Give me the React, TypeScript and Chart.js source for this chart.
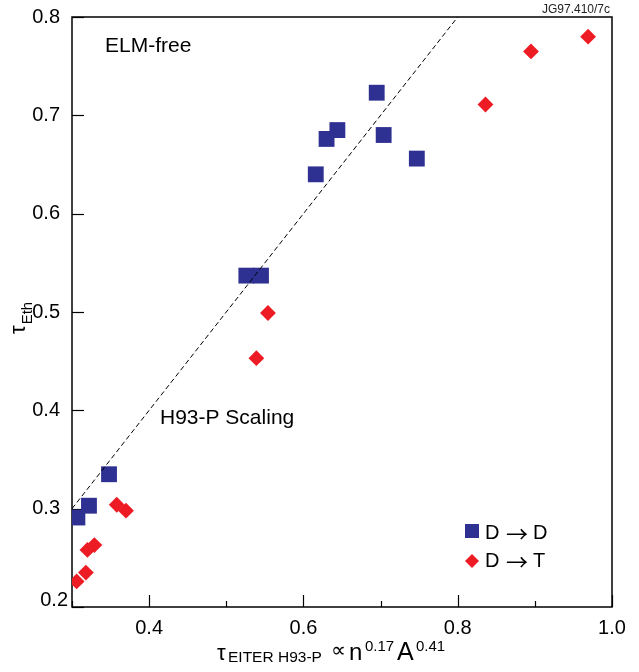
import React, { useEffect, useRef } from "react";
import { Chart, registerables } from "chart.js";

Chart.register(...registerables);

// D -> D discharges (blue squares)
const ddX = [0.307, 0.322, 0.348, 0.526, 0.545, 0.616, 0.630, 0.644, 0.695, 0.704, 0.747];
const ddY = [0.291, 0.303, 0.335, 0.537, 0.537, 0.640, 0.676, 0.685, 0.723, 0.680, 0.656];
// D -> T discharges (red diamonds)
const dtX = [0.306, 0.318, 0.320, 0.329, 0.358, 0.370, 0.539, 0.554, 0.836, 0.895, 0.969];
const dtY = [0.226, 0.235, 0.258, 0.263, 0.304, 0.298, 0.453, 0.499, 0.711, 0.765, 0.780];
// H93-P scaling line (tau_Eth = tau_H93-P)
const scalingX = [0.3, 0.8];
const scalingY = [0.3, 0.8];

const xTickLabels = ["0.4", "0.6", "0.8", "1.0"];
const yTickLabels = ["0.2", "0.3", "0.4", "0.5", "0.6", "0.7", "0.8"];

const legendFrom = ["D", "D"];
const legendTo = ["D", "T"];
const BLUE = "#2E3192";
const RED = "#ED1C24";
const FONT = '"Liberation Sans", Arial, Helvetica, sans-serif';
const SYM = '"DejaVu Sans", sans-serif';
const ARROW = '"Noto Sans CJK SC", "DejaVu Sans", sans-serif';

const toPts = (xs: number[], ys: number[]) => xs.map((x, i) => ({ x, y: ys[i] }));

const decor = {
  id: "decor",
  beforeDatasetsDraw(chart: any) {
    const { ctx, chartArea: a, scales } = chart;
    const xs = scales.x;
    const ys = scales.y;
    ctx.save();
    ctx.strokeStyle = "#000";
    ctx.lineWidth = 1.2;
    ys.ticks.forEach((t: any) => {
      const py = Math.round(ys.getPixelForValue(t.value)) + 0.5;
      ctx.beginPath();
      ctx.moveTo(a.left, py);
      ctx.lineTo(a.left + 12, py);
      ctx.stroke();
    });
    xs.ticks.forEach((t: any) => {
      const px = Math.round(xs.getPixelForValue(t.value)) + 0.5;
      const major = Math.round(t.value * 10) % 2 === 0;
      ctx.beginPath();
      ctx.moveTo(px, a.bottom);
      ctx.lineTo(px, a.bottom - (major ? 12 : 6));
      ctx.stroke();
    });
    ctx.lineWidth = 1.5;
    ctx.strokeRect(a.left, a.top, a.right - a.left, a.bottom - a.top);
    ctx.restore();
  },
  afterDraw(chart: any) {
    const { ctx, scales } = chart;
    const ys = scales.y;
    ctx.save();
    ctx.fillStyle = "#000";

    // lowest y label, lifted to clear the x labels
    ctx.font = `20px ${FONT}`;
    ctx.textAlign = "right";
    ctx.textBaseline = "middle";
    ctx.fillText(yTickLabels[0], 68, ys.getPixelForValue(parseFloat(yTickLabels[0])) - 7);
    ctx.textAlign = "left";
    ctx.textBaseline = "alphabetic";

    // annotations
    ctx.font = `21px ${FONT}`;
    ctx.fillText("ELM-free", 105, 52);
    ctx.fillText("H93-P Scaling", 160, 424);

    ctx.font = `12px ${FONT}`;
    ctx.fillStyle = "#222";
    ctx.textAlign = "right";
    ctx.fillText("JG97.410/7c", 610, 13);
    ctx.textAlign = "left";

    // legend
    ctx.fillStyle = BLUE;
    ctx.fillRect(465, 524, 14, 14);
    ctx.fillStyle = RED;
    ctx.beginPath();
    ctx.moveTo(472, 554);
    ctx.lineTo(479, 561);
    ctx.lineTo(472, 568);
    ctx.lineTo(465, 561);
    ctx.closePath();
    ctx.fill();
    ctx.fillStyle = "#000";
    const rows = [538.5, 567];
    rows.forEach((by, i) => {
      ctx.font = `20px ${FONT}`;
      ctx.fillText(legendFrom[i], 485, by);
      ctx.font = `22px ${ARROW}`;
      ctx.fillText("\u2192", 506, by + 3);
      ctx.font = `20px ${FONT}`;
      ctx.fillText(legendTo[i], 533, by);
    });

    // x axis title: tau_{EITER H93-P} ∝ n^{0.17} A^{0.41}
    ctx.font = `22px ${FONT}`;
    ctx.fillText("\u03C4", 217, 660);
    ctx.font = `15.5px ${FONT}`;
    ctx.fillText("EITER H93-P", 228, 662);
    ctx.font = `21px ${SYM}`;
    ctx.fillText("\u221D", 331, 657);
    ctx.font = `24px ${FONT}`;
    ctx.fillText("n", 349, 660);
    ctx.font = `15px ${FONT}`;
    ctx.fillText("0.17", 365, 651);
    ctx.font = `25px ${FONT}`;
    ctx.fillText("A", 397, 660);
    ctx.font = `15px ${FONT}`;
    ctx.fillText("0.41", 416, 651);

    // y axis title: tau_Eth (rotated)
    ctx.translate(25, 334);
    ctx.rotate(-Math.PI / 2);
    ctx.font = `22px ${FONT}`;
    ctx.fillText("\u03C4", 0, 0);
    const w = ctx.measureText("\u03C4").width;
    ctx.font = `15px ${FONT}`;
    ctx.fillText("Eth", w + 1, 7);
    ctx.restore();
  },
};

export default function App() {
  const ref = useRef<HTMLCanvasElement | null>(null);
  useEffect(() => {
    if (!ref.current) return;
    const chart = new Chart(ref.current, {
      type: "scatter",
      data: {
        datasets: [
          {
            type: "line",
            label: "H93-P Scaling",
            data: toPts(scalingX, scalingY),
            borderColor: "#000",
            borderWidth: 1,
            borderDash: [5, 3],
            pointRadius: 0,
            showLine: true,
            fill: false,
            order: 0,
          } as any,
          {
            label: "D \u2192 D",
            data: toPts(ddX, ddY),
            pointStyle: "rect",
            pointRadius: 11.2,
            pointHoverRadius: 11.2,
            backgroundColor: BLUE,
            borderWidth: 0,
            order: 1,
          },
          {
            label: "D \u2192 T",
            data: toPts(dtX, dtY),
            pointStyle: "rectRot",
            pointRadius: 7.9,
            pointHoverRadius: 7.9,
            backgroundColor: RED,
            borderWidth: 0,
            order: 2,
          },
        ],
      },
      options: {
        responsive: false,
        animation: false,
        events: [],
        layout: { padding: { left: 0, right: 27, top: 17, bottom: 0 } },
        plugins: { legend: { display: false }, tooltip: { enabled: false } },
        scales: {
          x: {
            type: "linear",
            min: 0.3,
            max: 1.0,
            grid: { display: false },
            border: { display: false },
            afterFit: (s: any) => {
              s.height = 65;
            },
            ticks: {
              stepSize: 0.1,
              autoSkip: false,
              maxRotation: 0,
              padding: 1,
              color: "#000",
              font: { family: FONT, size: 20 },
              callback: (v: any) => {
                const l = xTickLabels.find((s) => Math.abs(parseFloat(s) - Number(v)) < 1e-6);
                return l ?? "";
              },
            },
          },
          y: {
            type: "linear",
            min: 0.2,
            max: 0.8,
            grid: { display: false },
            border: { display: false },
            afterFit: (s: any) => {
              s.width = 72;
            },
            ticks: {
              stepSize: 0.1,
              autoSkip: false,
              padding: 4,
              color: "#000",
              font: { family: FONT, size: 20 },
              callback: (v: any) => {
                const l = yTickLabels.find((s) => Math.abs(parseFloat(s) - Number(v)) < 1e-6);
                if (l === yTickLabels[0]) return "";
                return l ?? "";
              },
            },
          },
        },
      },
      plugins: [decor],
    });
    return () => chart.destroy();
  }, []);

  return (
    <div style={{ position: "fixed", left: 0, top: 0, width: 639, height: 672, background: "#fff" }}>
      <canvas ref={ref} width={639} height={672} style={{ display: "block" }} />
    </div>
  );
}
